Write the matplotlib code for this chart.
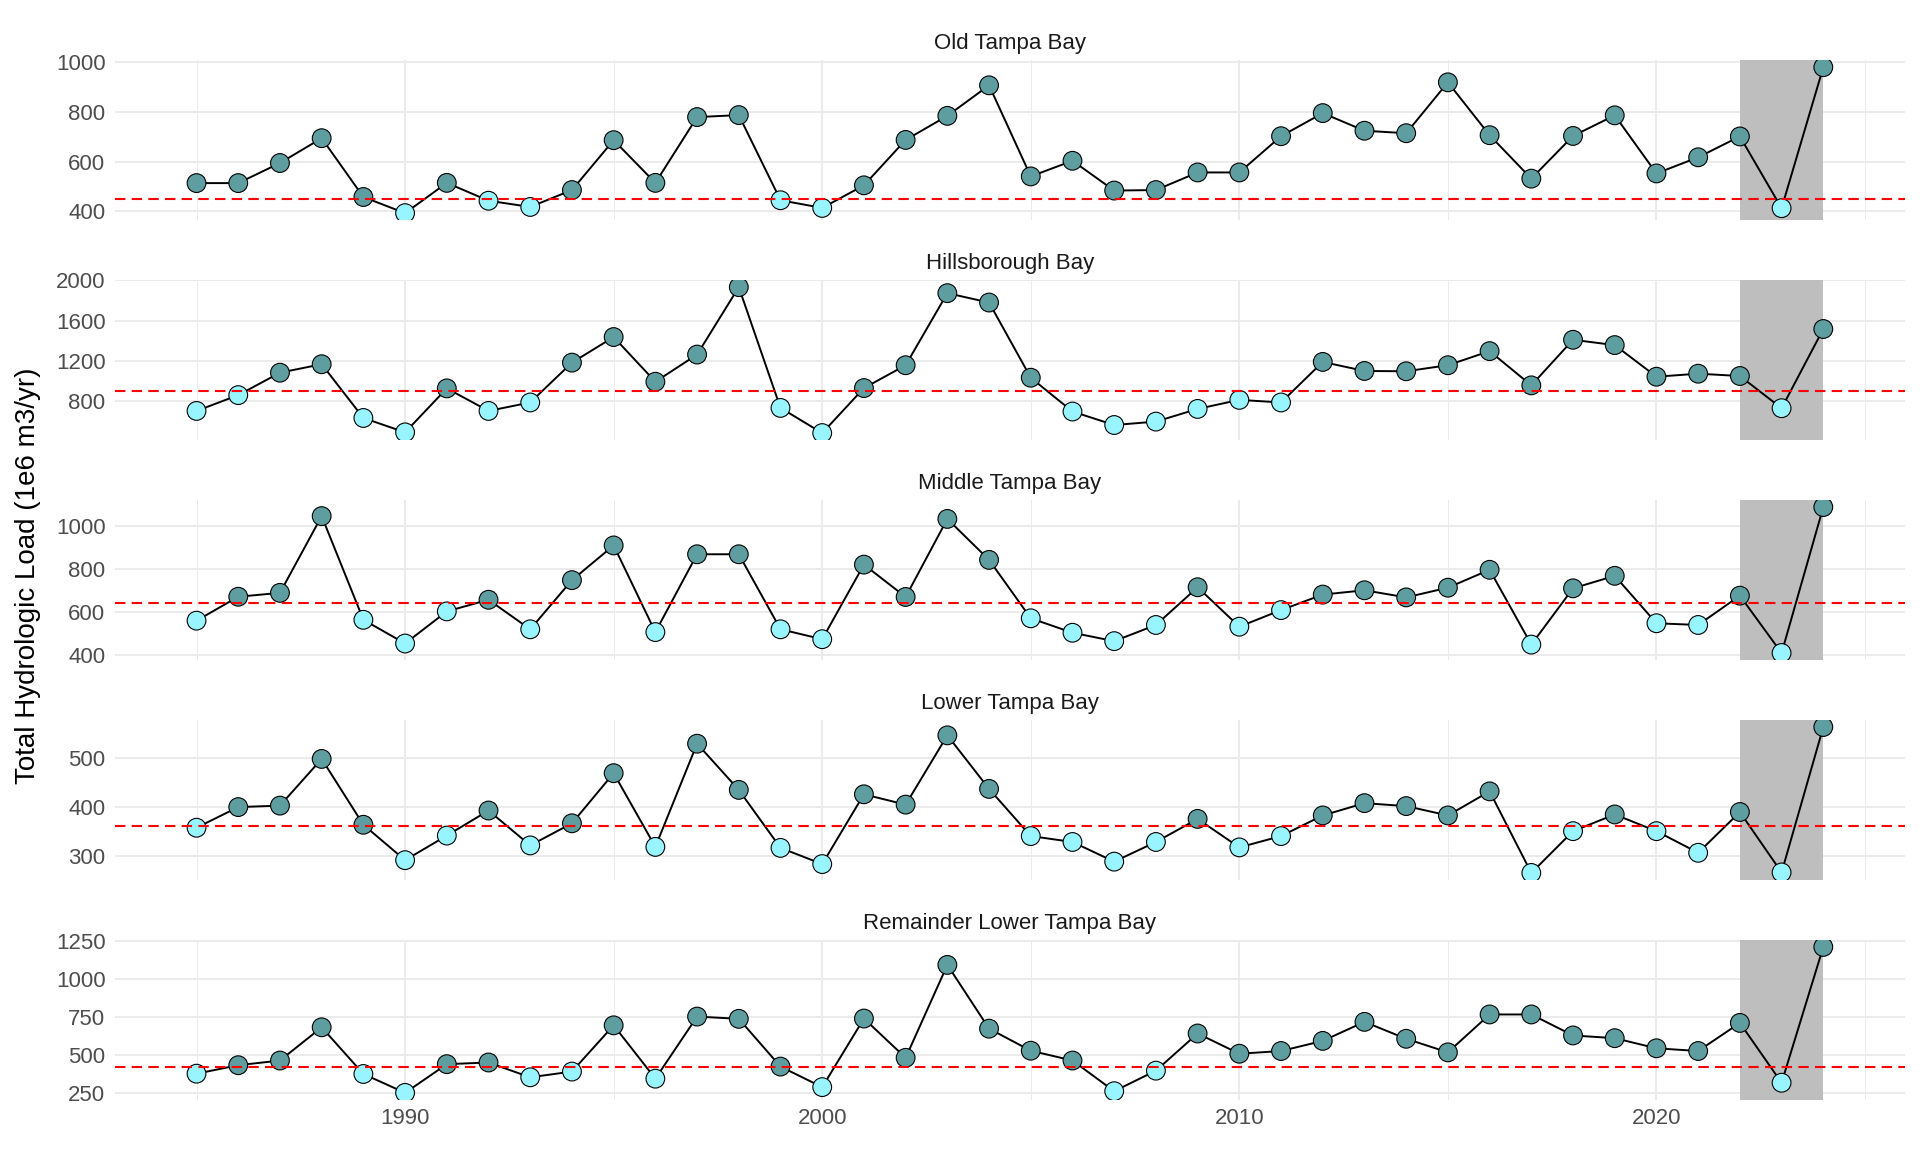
import matplotlib
matplotlib.use("Agg")
import matplotlib.pyplot as plt
import matplotlib.ticker as ticker

plt.rcParams['font.family'] = ['Liberation Sans', 'DejaVu Sans']

years = list(range(1985, 2025))

bays = ["Old Tampa Bay", "Hillsborough Bay", "Middle Tampa Bay",
        "Lower Tampa Bay", "Remainder Lower Tampa Bay"]

old_tb = [513, 513, 594, 694, 457, 392, 514, 442, 417, 485,
          686, 514, 779, 787, 444, 413, 504, 687, 784, 907,
          540, 603, 483, 485, 556, 556, 702, 795, 724, 714,
          919, 706, 531, 703, 786, 552, 617, 701, 412, 980]
hills_b = [703, 860, 1083, 1167, 633, 490, 927, 703, 787, 1183,
           1437, 993, 1263, 1933, 733, 483, 930, 1157, 1873, 1780,
           1033, 697, 563, 597, 723, 813, 787, 1190, 1100, 1097,
           1157, 1297, 957, 1410, 1357, 1043, 1073, 1050, 730, 1517]
middle_tb = [559, 670, 688, 1044, 563, 453, 602, 656, 519, 747,
             908, 506, 867, 867, 519, 473, 819, 669, 1031, 841,
             570, 503, 464, 539, 714, 531, 608, 680, 700, 667,
             712, 795, 448, 709, 767, 547, 539, 675, 409, 1086]
lower_tb = [358, 400, 403, 498, 364, 292, 342, 393, 322, 367,
            469, 319, 529, 435, 317, 284, 426, 405, 546, 437,
            341, 329, 289, 329, 376, 318, 341, 383, 408, 402,
            383, 432, 266, 351, 385, 351, 307, 390, 267, 563]
remain_ltb = [375, 431, 462, 682, 373, 248, 438, 449, 351, 389,
              695, 342, 753, 738, 422, 286, 740, 480, 1095, 673,
              527, 462, 259, 395, 641, 507, 525, 592, 718, 606,
              516, 767, 767, 628, 610, 543, 525, 711, 315, 1214]

loads = [old_tb, hills_b, middle_tb, lower_tb, remain_ltb]
targets = [448, 900, 642, 361, 420]
yticks = [[400, 600, 800, 1000],
          [800, 1200, 1600, 2000],
          [400, 600, 800, 1000],
          [300, 400, 500],
          [250, 500, 750, 1000, 1250]]

fig, axes = plt.subplots(5, 1, figsize=(19.2, 11.52), dpi=100, sharex=True)
fig.subplots_adjust(left=0.06, right=0.992, top=0.948, bottom=0.045, hspace=0.37)

for i, ax in enumerate(axes):
	vals = loads[i]
	thr = targets[i]
	cols = ['#5F9EA0' if v > thr else '#98F5FF' for v in vals]

	ax.axvspan(2022, 2024, color='#BEBEBE', lw=0, zorder=1)
	ax.plot(years, vals, color='black', lw=1.4, zorder=3)
	ax.scatter(years, vals, s=13.5**2, c=cols, edgecolors='black', linewidths=0.8, zorder=4)
	ax.axhline(thr, color='red', ls=(0, (5, 3)), lw=1.5, zorder=5)

	ax.set_yticks(yticks[i])
	ax.set_xlim(1983.05, 2025.95)
	ax.xaxis.set_major_locator(ticker.MultipleLocator(10))
	ax.xaxis.set_minor_locator(ticker.MultipleLocator(5))
	ax.grid(True, which='major', color='#EBEBEB', lw=1.4, zorder=0)
	ax.grid(True, which='minor', axis='x', color='#EBEBEB', lw=0.7, zorder=0)
	ax.set_axisbelow(True)
	for sp in ax.spines.values():
		sp.set_visible(False)
	ax.tick_params(which='both', length=0, labelsize=16, colors='#4D4D4D', pad=7)
	ax.set_title(bays[i], fontsize=16, color='#1A1A1A', pad=8)

axes[-1].tick_params(axis='x', pad=6)
fig.text(0.0145, 0.5, 'Total Hydrologic Load (1e6 m3/yr)', rotation=90,
         ha='center', va='center', fontsize=20, color='black')

plt.savefig('out.png', dpi=100)
